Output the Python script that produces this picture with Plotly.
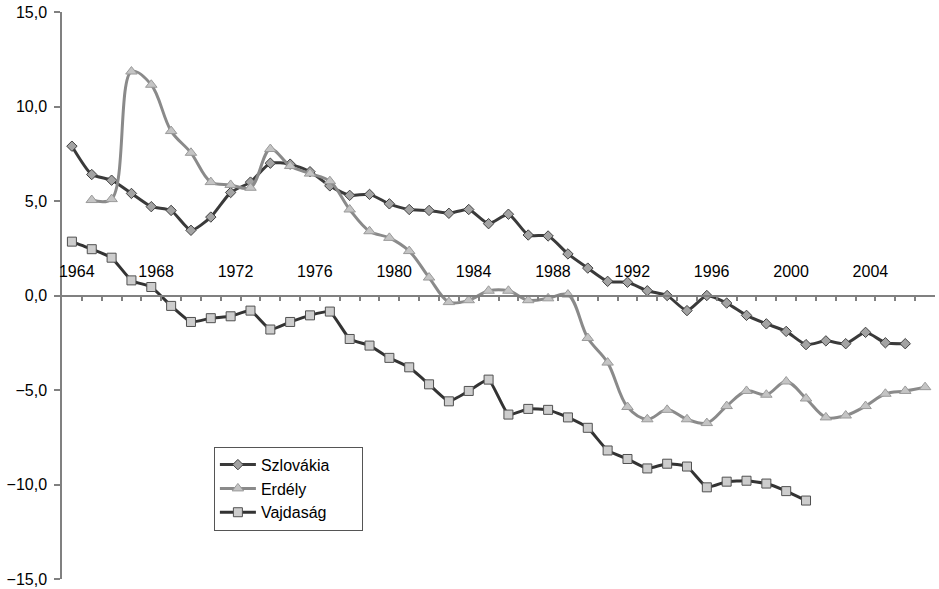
import plotly.graph_objects as go

# ---- data ----
years_szlovakia = list(range(1963, 2006))
szlovakia = [7.9, 6.4, 6.1, 5.4, 4.7, 4.5, 3.45, 4.15, 5.45, 6.0,
             7.0, 6.95, 6.55, 5.8, 5.3, 5.35, 4.85, 4.55, 4.5, 4.35,
             4.55, 3.8, 4.3, 3.2, 3.15, 2.2, 1.45, 0.75, 0.7, 0.25,
             0.0, -0.8, 0.0, -0.4, -1.05, -1.5, -1.9, -2.6, -2.4, -2.55,
             -1.95, -2.5, -2.55]

years_erdely = list(range(1964, 2007))
erdely = [5.05, 5.1, 11.85, 11.15, 8.7, 7.55, 6.0, 5.85, 5.7, 7.75,
          6.85, 6.45, 6.05, 4.55, 3.4, 3.05, 2.35, 0.95, -0.35, -0.25,
          0.25, 0.25, -0.25, -0.15, 0.05, -2.25, -3.55, -5.9, -6.55, -6.05,
          -6.55, -6.75, -5.85, -5.05, -5.25, -4.55, -5.45, -6.45, -6.35, -5.85,
          -5.2, -5.05, -4.85]

years_vajdasag = list(range(1963, 2001))
vajdasag = [2.85, 2.45, 2.0, 0.8, 0.45, -0.55, -1.4, -1.2, -1.1, -0.8,
            -1.8, -1.4, -1.05, -0.85, -2.3, -2.65, -3.3, -3.8, -4.7, -5.6,
            -5.05, -4.45, -6.3, -6.0, -6.05, -6.45, -7.0, -8.2, -8.65, -9.15,
            -8.9, -9.05, -10.15, -9.85, -9.8, -9.95, -10.35, -10.85]

label_years = list(range(1964, 2005, 4))
label_text = [str(y) for y in label_years]
y_ticks = [-15, -10, -5, 0, 5, 10, 15]

FONT = "Liberation Sans, Arial, sans-serif"

fig = go.Figure()
fig.add_trace(go.Scatter(
    x=years_szlovakia, y=szlovakia,
    name="Szlovákia\u00a0\u00a0\u00a0\u00a0\u00a0\u00a0",
    mode="lines+markers", legendgroup="a",
    line=dict(color="#3a3a3a", width=3, shape="spline", smoothing=0.6),
    marker=dict(symbol="diamond", size=8, color="#a3a3a3",
                line=dict(color="#404040", width=1))))
fig.add_trace(go.Scatter(
    x=years_erdely, y=erdely, name="Erdély", mode="lines+markers",
    legendgroup="b",
    line=dict(color="#8a8a8a", width=3, shape="spline", smoothing=1.0),
    marker=dict(symbol="triangle-up", size=10, color="#c4c4c4",
                line=dict(color="#9a9a9a", width=1))))
fig.add_trace(go.Scatter(
    x=years_vajdasag, y=vajdasag, name="Vajdaság", mode="lines+markers",
    legendgroup="c",
    line=dict(color="#333333", width=3, shape="spline", smoothing=0.4),
    marker=dict(symbol="square", size=9, color="#cdcdcd",
                line=dict(color="#505050", width=1))))

fig.update_layout(
    width=939, height=589,
    margin=dict(l=62, r=4, t=12, b=10, autoexpand=False),
    paper_bgcolor="white", plot_bgcolor="white",
    separators=", ",
    hovermode=False,
    font=dict(family=FONT, size=16, color="#000000"),
    legend=dict(x=0.174, y=0.2333, xanchor="left", yanchor="top",
                bgcolor="white", bordercolor="#555555", borderwidth=1,
                tracegroupgap=0, itemwidth=36,
                font=dict(family=FONT, size=16)),
    xaxis=dict(
        range=[1962.5, 2006.5], anchor="free", position=0.5, side="top",
        automargin=False,
        showgrid=False, zeroline=False,
        showline=True, linecolor="#808080", linewidth=1.5,
        tickmode="array", tickvals=label_years, ticktext=label_text,
        ticks="inside", ticklen=0, ticklabelstandoff=11, ticklabelshift=-15,
        tickfont=dict(family=FONT, size=16),
        minor=dict(ticks="inside", tick0=1962.5, dtick=1, ticklen=5,
                   tickcolor="#808080", tickwidth=1.5, showgrid=False),
    ),
    yaxis=dict(
        range=[-15, 15], showgrid=False, zeroline=False, automargin=False,
        showline=True, linecolor="#808080", linewidth=1.5,
        tickmode="array", tickvals=y_ticks, tickformat=".1f",
        ticklabeloverflow="allow",
        ticks="outside", ticklen=6, tickcolor="#808080", tickwidth=1.5,
        ticklabelstandoff=4,
        tickfont=dict(family=FONT, size=16),
    ),
)

fig.write_html("out.html",
               config={"displayModeBar": False},
               post_script="document.body.style.margin='0';"
                           "document.body.style.overflow='hidden';")
